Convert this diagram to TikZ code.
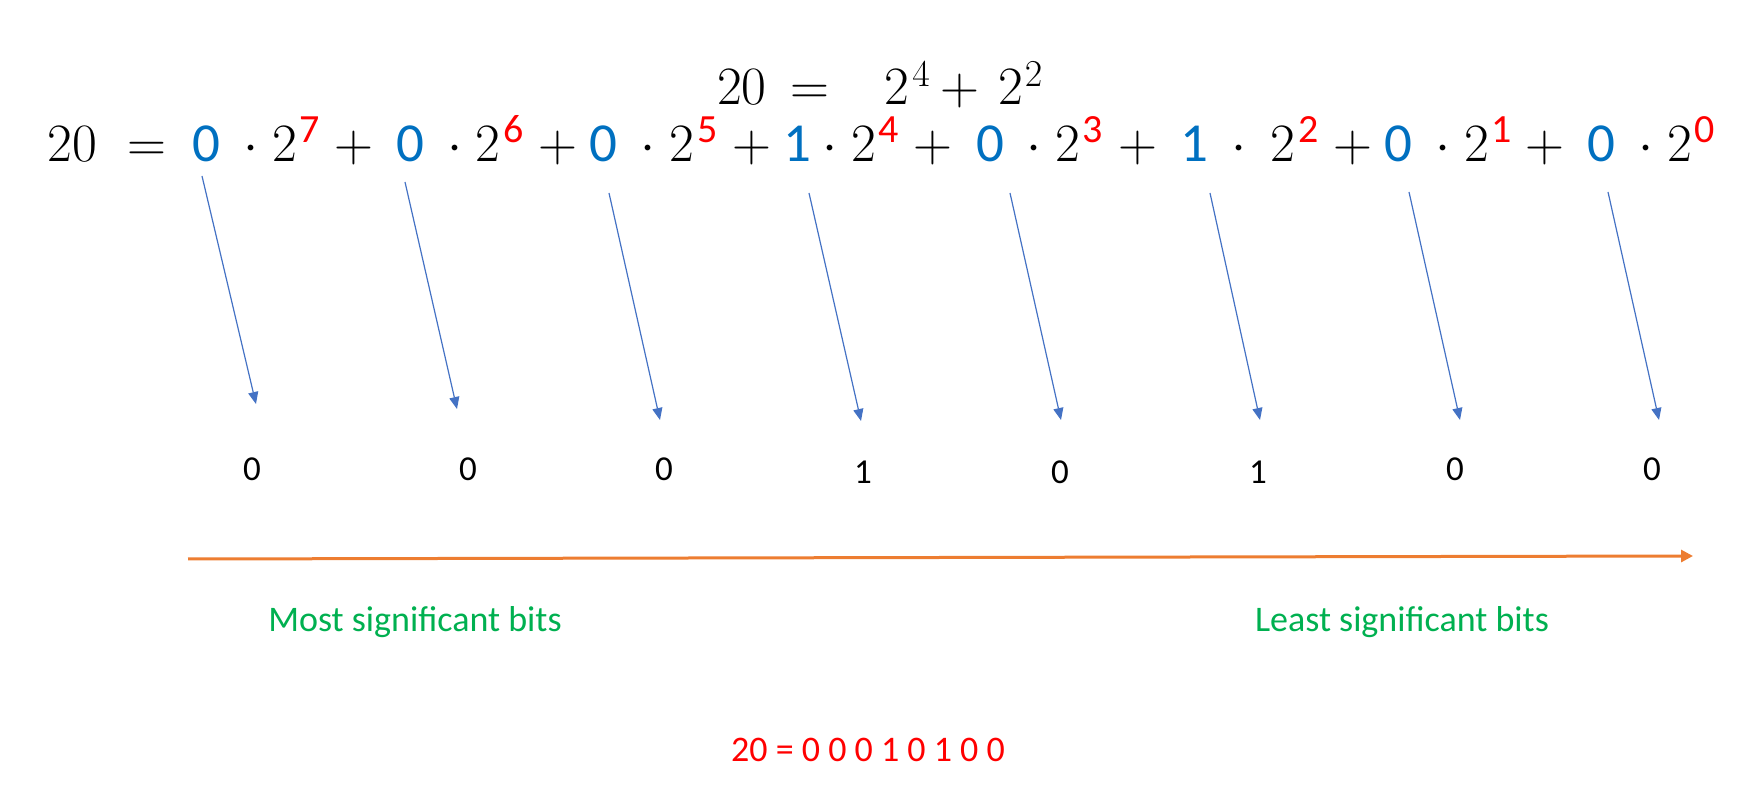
\RequirePackage{fix-cm}
\documentclass[tikz,border=0pt]{standalone}
\usepackage[no-math]{fontspec}
\setmainfont{Carlito}
\usetikzlibrary{arrows.meta}
\definecolor{digitblue}{HTML}{0070C0}
\definecolor{arrowblue}{HTML}{4472C4}
\definecolor{msborange}{HTML}{ED7D31}
\definecolor{labelgreen}{HTML}{00B050}
\definecolor{binred}{HTML}{FF0000}
\tikzset{
  mathglyph/.style={inner sep=0pt, outer sep=0pt, anchor=base, font=\fontsize{27}{32}\selectfont},
  bluedigit/.style={inner sep=0pt, outer sep=0pt, anchor=base, text=digitblue, font=\fontsize{27.5}{33}\selectfont},
  supdigit/.style={inner sep=0pt, outer sep=0pt, anchor=base, text=binred, font=\fontsize{20}{24}\selectfont},
  topsup/.style={inner sep=0pt, outer sep=0pt, anchor=base, font=\fontsize{19}{23}\selectfont},
  bitlabel/.style={inner sep=0pt, outer sep=0pt, anchor=base, font=\fontsize{17.5}{21}\selectfont},
  greenlabel/.style={inner sep=0pt, outer sep=0pt, anchor=base, text=labelgreen, font=\fontsize{18}{22}\selectfont},
  redlabel/.style={inner sep=0pt, outer sep=0pt, anchor=base, text=binred, font=\fontsize{18}{22}\selectfont},
  bitarrow/.style={draw=arrowblue, line width=0.6pt, -{Triangle[length=6pt,width=5pt]}},
  orderarrow/.style={draw=msborange, line width=1.5pt, -{Triangle[length=6pt,width=6pt]}}
}
\begin{document}
\begin{tikzpicture}[x=0.5pt, y=-0.5pt]
\useasboundingbox (0,0) rectangle (1761,795);

% top equation
\foreach \x/\g [count=\i] in {742/20, 810/=, 896.5/2, 960/+, 1011/2}
  \node[mathglyph] (t\i) at (\x,105) {$\g$};
\node[topsup] (ts1) at (921,87) {$4$};
\node[topsup] (ts2) at (1033.5,87) {$2$};

% expanded equation
\foreach \x/\g [count=\i] in {72.5/20, 146.5/=, 251/\cdot, 284.5/2, 354/+, 455/\cdot, 487.5/2, 558/+, 648/\cdot, 682/2, 751.5/+, 830/\cdot, 863.5/2, 933/+, 1034/\cdot, 1067.5/2, 1138/+, 1239/\cdot, 1283/2, 1353/+, 1443/\cdot, 1476.5/2, 1545/+, 1646/\cdot, 1679.5/2}
  \node[mathglyph] (m\i) at (\x,162) {$\g$};
\foreach \x/\g [count=\i] in {206/0, 410.5/0, 603.5/0, 797.5/1, 990.5/0, 1194.5/1, 1398.5/0, 1601/0}
  \node[bluedigit] (d\i) at (\x,162) {\g};
\foreach \x/\g [count=\i] in {310/7, 513.5/6, 707.5/5, 888.5/4, 1092.5/3, 1308.5/2, 1501.5/1, 1705/0}
  \node[supdigit] (s\i) at (\x,142.5) {\g};

% bits
\foreach \x/\y/\b [count=\i] in {252/481/0, 468/481/0, 664/481/0, 863/484/1, 1060/484/0, 1258/484/1, 1455/481/0, 1652/481/0}
  \node[bitlabel] (b\i) at (\x,\y) {\b};

% arrow end points
\foreach \sx/\sy/\ex/\ey [count=\i] in {202/176/256/404, 405/182/457/409, 609/193/660/420, 809/193/861/421, 1010/193/1061/420, 1210/193/1260/420, 1409/192/1460/420, 1608/192/1659/420}
{
  \coordinate (as\i) at (\sx,\sy);
  \coordinate (ae\i) at (\ex,\ey);
  \draw[bitarrow] (as\i) -- (ae\i);
}

% order arrow
\coordinate (os) at (188,559);
\coordinate (oe) at (1693,556);
\draw[orderarrow] (os) -- (oe);

\node[greenlabel] (msb) at (415,632) {Most significant bits};
\node[greenlabel] (lsb) at (1402,632) {Least significant bits};
\node[redlabel] (bin) at (868,762) {20 = 0 0 0 1 0 1 0 0};
\end{tikzpicture}
\end{document}
